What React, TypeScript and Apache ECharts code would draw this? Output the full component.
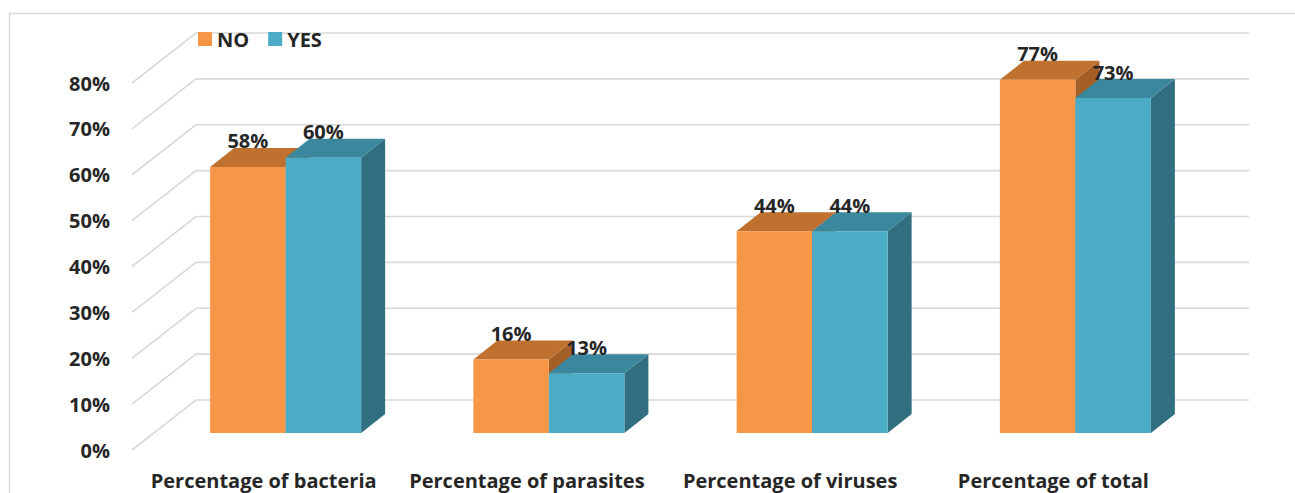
import React, { useEffect, useRef } from "react";
import * as echarts from "echarts";

// Chart data
const categories = [
  "Percentage of bacteria",
  "Percentage of parasites",
  "Percentage of viruses",
  "Percentage of total",
];
const noValues = [58, 16, 44, 77];
const yesValues = [60, 13, 44, 73];
const yTicks = [0, 10, 20, 30, 40, 50, 60, 70, 80];

// Pseudo-3D geometry (pixels)
const FLOOR_DEPTH: [number, number] = [64, -50];
const BAR_FRONT: [number, number] = [22, -17];
const BAR_BACK: [number, number] = [46, -36];
const BAR_W = 75.5;

const FONT = "'Open Sans', 'DejaVu Sans', sans-serif";
const TEXT_COLOR = "#262626";

const NO_COLORS = { front: "#F79646", top: "#C0712F", side: "#A45F27" };
const YES_COLORS = { front: "#4BACC6", top: "#3A879E", side: "#306E80" };

function makeBarRenderer(which: 0 | 1, colors: { front: string; top: string; side: string }) {
  return (params: any, api: any) => {
    const cat = api.value(0);
    const val = api.value(1);
    const base = api.coord([cat, 0]);
    const top = api.coord([cat, val]);
    const cx = base[0];
    const x0 = (which === 0 ? cx - BAR_W : cx) + BAR_FRONT[0];
    const x1 = x0 + BAR_W;
    const by = base[1] + BAR_FRONT[1];
    const ty = top[1] + BAR_FRONT[1];
    const dx = BAR_BACK[0] - BAR_FRONT[0];
    const dy = BAR_BACK[1] - BAR_FRONT[1];
    return {
      type: "group",
      children: [
        {
          type: "polygon",
          shape: { points: [[x1, ty], [x1 + dx, ty + dy], [x1 + dx, by + dy], [x1, by]] },
          style: { fill: colors.side },
        },
        {
          type: "polygon",
          shape: { points: [[x0, ty], [x1, ty], [x1 + dx, ty + dy], [x0 + dx, ty + dy]] },
          style: { fill: colors.top },
        },
        {
          type: "rect",
          shape: { x: x0, y: ty, width: BAR_W, height: by - ty },
          style: { fill: colors.front },
        },
        {
          type: "text",
          style: {
            x: (x0 + x1) / 2,
            y: ty + dy - 7,
            text: val + "%",
            align: "center",
            verticalAlign: "middle",
            fill: TEXT_COLOR,
            font: `bold 20px ${FONT}`,
          },
        },
      ],
    };
  };
}

function renderGridLine(params: any, api: any) {
  const cs = params.coordSys;
  const y = api.coord([0, api.value(1)])[1];
  const x = cs.x;
  return {
    type: "polyline",
    shape: {
      points: [
        [x, y],
        [x + FLOOR_DEPTH[0], y + FLOOR_DEPTH[1]],
        [cs.x + cs.width + FLOOR_DEPTH[0], y + FLOOR_DEPTH[1]],
      ],
    },
    style: { stroke: "#D9D9D9", lineWidth: 1.6, fill: "none" },
  };
}

export default function App() {
  const ref = useRef<HTMLDivElement>(null);

  useEffect(() => {
    if (!ref.current) return;
    const chart = echarts.init(ref.current, undefined, { renderer: "svg" });
    chart.setOption({
      animation: false,
      backgroundColor: "#ffffff",
      graphic: [
        {
          type: "rect",
          left: 7,
          top: 11,
          shape: { width: 1400, height: 600 },
          style: { fill: "none", stroke: "#D9D9D9", lineWidth: 1.5 },
          silent: true,
          z: 0,
        },
      ],
      legend: {
        data: ["NO", "YES"],
        left: 193,
        top: 24,
        icon: "rect",
        itemWidth: 14,
        itemHeight: 14,
        itemGap: 19,
        textStyle: { fontFamily: FONT, fontWeight: "bold", fontSize: 20, color: TEXT_COLOR },
      },
      grid: { left: 132, top: 83, width: 1053, height: 367, containLabel: false },
      xAxis: {
        type: "category",
        data: categories,
        axisLine: { show: false },
        axisTick: { show: false },
        axisLabel: {
          interval: 0,
          margin: 20,
          fontFamily: FONT,
          fontWeight: "bold",
          fontSize: 20,
          color: TEXT_COLOR,
        },
      },
      yAxis: {
        type: "value",
        min: 0,
        max: 80,
        interval: 10,
        axisLine: { show: false },
        axisTick: { show: false },
        splitLine: { show: false },
        axisLabel: {
          margin: 22,
          formatter: "{value}%",
          fontFamily: FONT,
          fontWeight: "bold",
          fontSize: 20,
          color: TEXT_COLOR,
        },
      },
      series: [
        {
          type: "custom",
          name: "grid",
          z: 1,
          silent: true,
          renderItem: renderGridLine,
          encode: { x: 0, y: 1 },
          data: yTicks.map((t) => [0, t]),
        },
        {
          type: "custom",
          name: "NO",
          z: 2,
          itemStyle: { color: NO_COLORS.front },
          renderItem: makeBarRenderer(0, NO_COLORS),
          encode: { x: 0, y: 1 },
          data: noValues.map((v, i) => [i, v]),
        },
        {
          type: "custom",
          name: "YES",
          z: 2,
          itemStyle: { color: YES_COLORS.front },
          renderItem: makeBarRenderer(1, YES_COLORS),
          encode: { x: 0, y: 1 },
          data: yesValues.map((v, i) => [i, v]),
        },
      ],
    });
    return () => chart.dispose();
  }, []);

  return (
    <div
      ref={ref}
      style={{ position: "fixed", left: 0, top: 0, width: 1295, height: 493 }}
    />
  );
}
